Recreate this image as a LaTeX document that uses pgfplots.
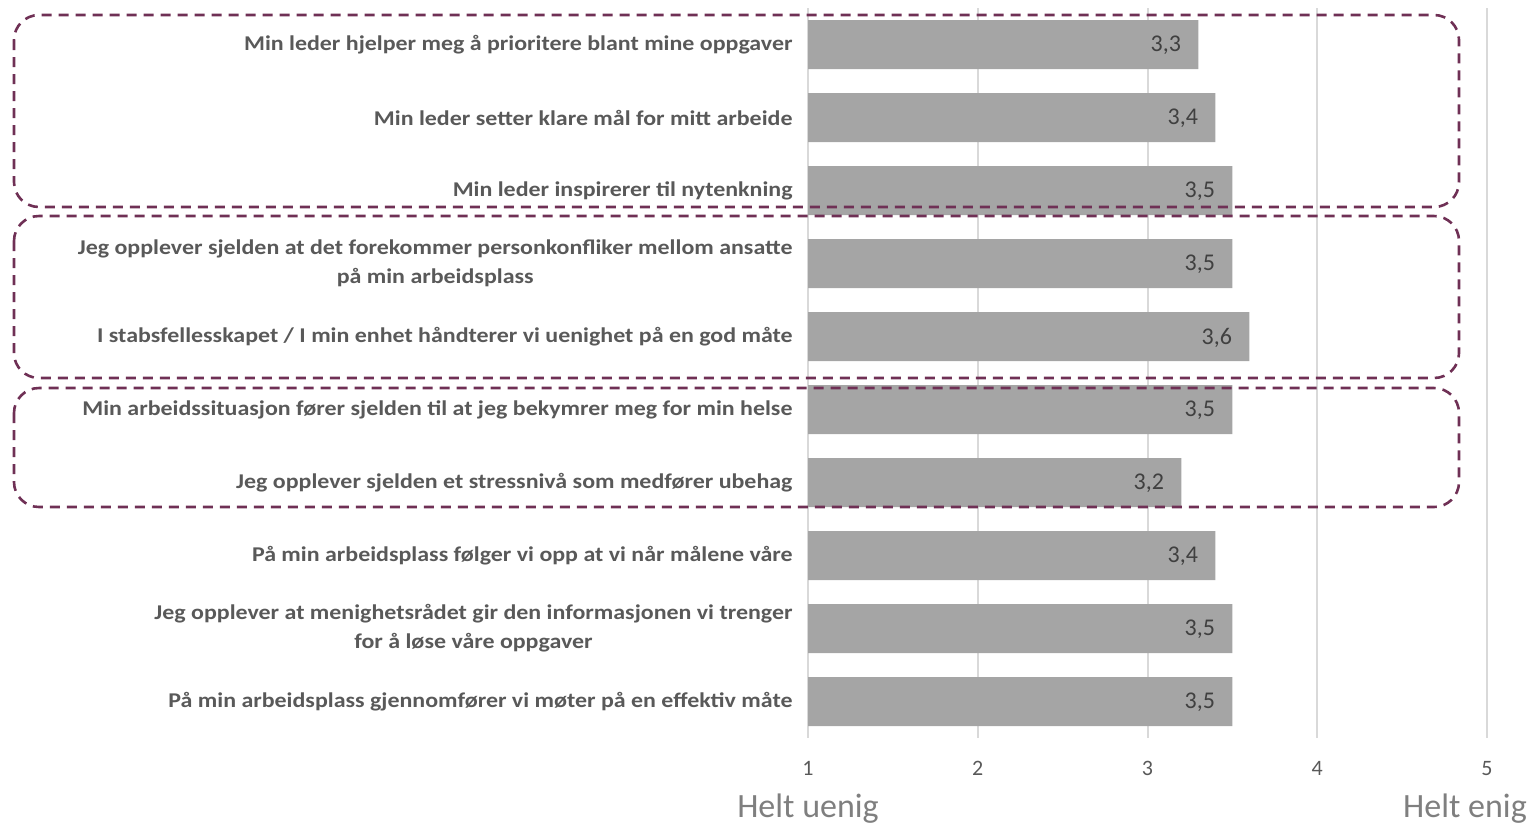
\documentclass[border=0pt]{standalone}
\usepackage{fontspec}
\setmainfont{Carlito}
\newfontfamily\catfont[FakeStretch=1.14]{Carlito}
\usepackage{pgfplots}
\pgfplotsset{compat=1.18}

\definecolor{barfill}{HTML}{A5A5A5}
\definecolor{gridgray}{HTML}{D9D9D9}
\definecolor{labelgray}{HTML}{595959}
\definecolor{valuegray}{HTML}{404040}
\definecolor{scalegray}{HTML}{7F7F7F}
\definecolor{groupframe}{HTML}{6F3055}

\begin{document}
\begin{tikzpicture}
% drawing unit: 1 px = 0.5pt, origin at top left
\begin{axis}[
  at={(404pt,-369pt)}, anchor=south west,
  scale only axis,
  width=339.5pt, height=365pt,
  xbar, bar width=24.5pt,
  xmin=1, xmax=5,
  ymin=-0.5, ymax=9.5,
  y dir=reverse,
  xtick={1,2,3,4,5},
  xticklabels={1,2,3,4,5},
  ytick={0,...,9},
  yticklabels={
    Min leder hjelper meg å prioritere blant mine oppgaver,
    Min leder setter klare mål for mitt arbeide,
    Min leder inspirerer til nytenkning,
    {Jeg opplever sjelden at det forekommer personkonfliker mellom ansatte\\på min arbeidsplass},
    I stabsfellesskapet / I min enhet håndterer vi uenighet på en god måte,
    Min arbeidssituasjon fører sjelden til at jeg bekymrer meg for min helse,
    Jeg opplever sjelden et stressnivå som medfører ubehag,
    På min arbeidsplass følger vi opp at vi når målene våre,
    {Jeg opplever at menighetsrådet gir den informasjonen vi trenger\\for å løse våre oppgaver},
    På min arbeidsplass gjennomfører vi møter på en effektiv måte
  },
  major tick length=0pt,
  axis line style={draw=none},
  xmajorgrids,
  major grid style={draw=gridgray, line width=1pt},
  /pgf/number format/assume math mode=true,
  x tick label style={anchor=base, inner sep=0pt, yshift=-18.5pt,
    font=\fontsize{11}{13}\selectfont, text=labelgray},
  y tick label style={anchor=east, inner sep=0pt, xshift=-7.5pt, align=center,
    font=\catfont\fontsize{10.5}{14.5}\selectfont\bfseries, text=labelgray},
  point meta=x,
  nodes near coords,
  nodes near coords style={anchor=east, inner sep=0pt, xshift=-8.5pt, yshift=-0.5pt,
    font=\fontsize{12}{14}\selectfont, text=valuegray,
    /pgf/number format/.cd, use comma, fixed, precision=1, fixed zerofill},
]
\addplot[fill=barfill, draw=none] coordinates {
  (3.3,0) (3.4,1) (3.5,2) (3.5,3) (3.6,4)
  (3.5,5) (3.2,6) (3.4,7) (3.5,8) (3.5,9)
};
\end{axis}

% scale end labels
\node[anchor=base, inner sep=0pt, font=\fontsize{17}{20}\selectfont, text=scalegray]
  at (404pt,-408.5pt) {Helt uenig};
\node[anchor=base, inner sep=0pt, font=\fontsize{17}{20}\selectfont, text=scalegray]
  at (732.5pt,-408.5pt) {Helt enig};

% dashed frames around the three groups of statements
\begin{scope}[draw=groupframe, line width=1.3pt, dash pattern=on 5pt off 3.5pt,
  rounded corners=12.5pt]
  \draw (7pt,-7.5pt) rectangle (729.5pt,-103.5pt);
  \draw (7pt,-108pt) rectangle (729.5pt,-189pt);
  \draw (7pt,-194pt) rectangle (729.5pt,-253.5pt);
\end{scope}

\pgfresetboundingbox
\path (0,0) rectangle (764.5pt,-413pt);
\end{tikzpicture}
\end{document}
